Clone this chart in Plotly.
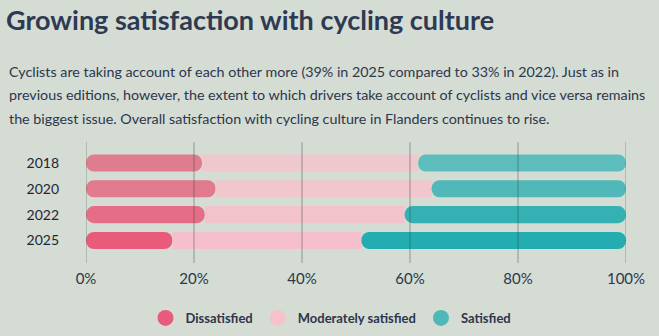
import plotly.graph_objects as go

# ---- data ----
years = ["2018", "2020", "2022", "2025"]
dissatisfied = [21.5, 24, 22, 16]
moderately = [40, 40, 37, 35]
satisfied = [38.5, 36, 41, 49]
tick_values = [0, 20, 40, 60, 80, 100]
tick_labels = ["0%", "20%", "40%", "60%", "80%", "100%"]

dis_colors = ["#df7d8f", "#e07a8c", "#e66d86", "#e85b7b"]
mod_colors = ["#efc8ce", "#f1c6cd", "#f3c3cc", "#f5c0cb"]
sat_colors = ["#5dbdbc", "#50b8b8", "#34b1b3", "#23adb0"]

NAVY = "#2c364c"
BG = "#d4dcd4"
W, H = 659, 336
ML, MR, MT, MB = 86, 33, 142, 73
PW, PH = W - ML - MR, H - MT - MB


def px_x(px):
    return (px - ML) / PW


def px_y(py):
    return (H - MB - py) / PH


fig = go.Figure()

# dissatisfied: drawn from its end back to 0 so the rounded end sits at the left
fig.add_trace(go.Bar(
    y=years, x=[-d for d in dissatisfied], base=dissatisfied, orientation="h",
    marker=dict(color=dis_colors, cornerradius="50%", line=dict(width=0)),
    width=0.66, showlegend=False, hoverinfo="skip"))
fig.add_trace(go.Bar(
    y=years, x=moderately, base=dissatisfied, orientation="h",
    marker=dict(color=mod_colors, cornerradius=0, line=dict(width=0)),
    width=0.66, showlegend=False, hoverinfo="skip"))
fig.add_trace(go.Bar(
    y=years, x=satisfied, base=[d + m for d, m in zip(dissatisfied, moderately)],
    orientation="h",
    marker=dict(color=sat_colors, cornerradius="50%", line=dict(width=0)),
    width=0.66, showlegend=False, hoverinfo="skip"))

# legend entries
for name, col in [("Dissatisfied", "#e85b7b"),
                  ("Moderately satisfied", "#f5c2cc"),
                  ("Satisfied", "#4fb8b7")]:
    fig.add_trace(go.Scatter(x=[None], y=[None], mode="markers",
                             name="<b>" + name + "</b>",
                             marker=dict(symbol="circle", size=18, color=col)))

shapes = [dict(type="line", xref="x", yref="paper", x0=v, x1=v, y0=0, y1=1,
               line=dict(color="rgba(55,65,65,0.45)", width=1), layer="above")
          for v in tick_values]

annotations = []
para = [
    "Cyclists are taking account of each other more (39% in 2025 compared to 33% in 2022). Just as in",
    "previous editions, however, the extent to which drivers take account of cyclists and vice versa remains",
    "the biggest issue. Overall satisfaction with cycling culture in Flanders continues to rise.",
]
for i, line in enumerate(para):
    annotations.append(dict(
        text=line, xref="paper", yref="paper", x=px_x(7), y=px_y(71 + i * 23.5),
        xanchor="left", yanchor="middle", showarrow=False, align="left",
        font=dict(family="Lato", size=14.3, color=NAVY)))

fig.update_layout(
    width=W, height=H,
    margin=dict(l=ML, r=MR, t=MT, b=MB, autoexpand=False),
    paper_bgcolor=BG, plot_bgcolor=BG,
    barmode="overlay",
    title=dict(text="<b>Growing satisfaction with cycling culture</b>",
               x=6 / W, xanchor="left", xref="container",
               y=1 - 21 / H, yanchor="middle", yref="container",
               font=dict(family="Lato", size=27, color="#2e3a52")),
    xaxis=dict(range=[0, 100], tickmode="array", tickvals=tick_values,
               ticktext=tick_labels, ticklabelstandoff=5,
               showgrid=False, zeroline=False, showline=False,
               tickfont=dict(family="Lato", size=15, color=NAVY),
               fixedrange=True),
    yaxis=dict(type="category", categoryorder="array",
               categoryarray=list(reversed(years)),
               range=[-0.87, 3.81], showgrid=False, zeroline=False,
               ticklabelstandoff=26,
               tickfont=dict(family="Lato", size=14, color="#1f2535"),
               fixedrange=True),
    legend=dict(orientation="h", x=px_x(331), xanchor="center",
                yref="container", y=(H - 318) / H, yanchor="middle",
                bgcolor="rgba(0,0,0,0)",
                font=dict(family="Lato", size=13, color=NAVY),
                itemwidth=30, traceorder="normal"),
    shapes=shapes,
    annotations=annotations,
)

fig.write_html("out.html")
